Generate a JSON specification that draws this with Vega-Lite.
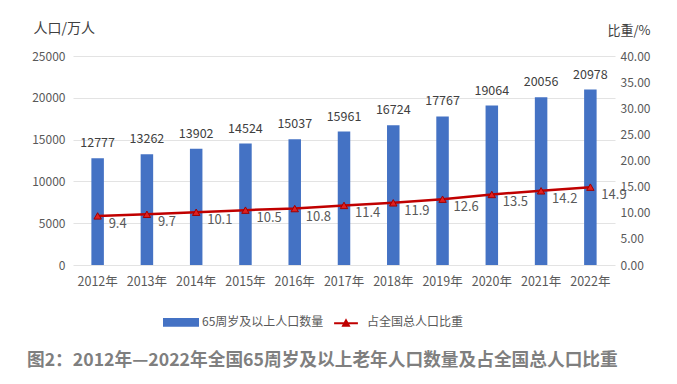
{
  "$schema": "https://vega.github.io/schema/vega-lite/v6.json",
  "width": 542,
  "height": 209,
  "autosize": {"type": "none"},
  "padding": {"left": 73, "top": 56, "right": 62, "bottom": 119},
  "background": "#ffffff",
  "config": {
    "font": "Noto Sans CJK SC",
    "view": {"stroke": null},
    "axis": {"labelColor": "#595959", "labelFontSize": 12, "titleColor": "#404040", "titleFontWeight": "normal", "domain": false, "ticks": false, "labelOverlap": false}
  },
  "title": {
    "text": "图2：2012年—2022年全国65周岁及以上老年人口数量及占全国总人口比重",
    "orient": "bottom",
    "anchor": "start",
    "frame": "group",
    "dx": -46,
    "offset": 22,
    "fontSize": 17.7,
    "fontWeight": "bold",
    "color": "#7F7F7F",
    "font": "Noto Sans CJK SC"
  },
  "data": {
    "values": [
      {"year": "2012年", "pop": 12777, "ratio": 9.4},
      {"year": "2013年", "pop": 13262, "ratio": 9.7},
      {"year": "2014年", "pop": 13902, "ratio": 10.1},
      {"year": "2015年", "pop": 14524, "ratio": 10.5},
      {"year": "2016年", "pop": 15037, "ratio": 10.8},
      {"year": "2017年", "pop": 15961, "ratio": 11.4},
      {"year": "2018年", "pop": 16724, "ratio": 11.9},
      {"year": "2019年", "pop": 17767, "ratio": 12.6},
      {"year": "2020年", "pop": 19064, "ratio": 13.5},
      {"year": "2021年", "pop": 20056, "ratio": 14.2},
      {"year": "2022年", "pop": 20978, "ratio": 14.9}
    ]
  },
  "encoding": {
    "x": {"field": "year", "type": "nominal", "sort": null, "title": null,
      "axis": {"labelAngle": 0, "labelPadding": 10, "labelFontSize": 12.5}}
  },
  "layer": [
    {
      "encoding": {
        "y": {"field": "pop", "type": "quantitative", "scale": {"domain": [0, 25000]},
          "axis": {"values": [0, 5000, 10000, 15000, 20000, 25000], "format": "d", "grid": true, "gridColor": "#E3E3E3", "labelPadding": 8,
            "title": "人口/万人", "titleAngle": 0, "titleAlign": "left", "titleBaseline": "middle", "titleX": -40, "titleY": -28, "titleFontSize": 14}}
      },
      "layer": [
        {
          "mark": {"type": "bar", "size": 12.5},
          "encoding": {
            "color": {"datum": "65周岁及以上人口数量", "type": "nominal",
              "scale": {"domain": ["65周岁及以上人口数量", "占全国总人口比重"], "range": ["#4472C4", "#C00000"]},
              "legend": {
                "orient": "none", "legendX": 90, "legendY": 248, "direction": "horizontal", "title": null,
                "labelFontSize": 12, "labelColor": "#595959", "symbolSize": 1156, "labelOffset": 3, "columnPadding": 4,
                "encode": {
                  "symbols": {"update": {
                    "shape": {"signal": "datum.value === '65周岁及以上人口数量' ? 'M-1,-0.2H1V0.2H-1Z' : 'M-0.7,0.05H0.7M-0.17,0.2L0,-0.12L0.17,0.2Z'"},
                    "fill": {"signal": "datum.value === '65周岁及以上人口数量' ? '#4472C4' : '#E02020'"},
                    "stroke": {"signal": "datum.value === '65周岁及以上人口数量' ? '#4472C4' : '#B00000'"},
                    "strokeWidth": {"value": 2},
                    "opacity": {"value": 1}
                  }}
                }
              }}
          }
        },
        {
          "mark": {"type": "text", "dy": -15, "fontSize": 12.5, "color": "#404040"},
          "encoding": {
            "text": {"field": "pop", "type": "quantitative", "format": "d"}
          }
        }
      ]
    },
    {
      "encoding": {
        "y": {"field": "ratio", "type": "quantitative", "scale": {"domain": [0, 40]},
          "axis": {"orient": "right", "values": [0, 5, 10, 15, 20, 25, 30, 35, 40], "format": ".2f", "grid": false, "labelPadding": 5,
            "title": "比重/%", "titleAngle": 0, "titleAlign": "left", "titleBaseline": "middle", "titleX": -8, "titleY": -26, "titleFontSize": 13}}
      },
      "layer": [
        {
          "mark": {"type": "line", "strokeWidth": 2.5},
          "encoding": {
            "color": {"datum": "占全国总人口比重", "type": "nominal"}
          }
        },
        {
          "mark": {"type": "point", "shape": "triangle-up", "size": 55, "filled": true, "fill": "#E02020", "stroke": "#A00000", "strokeWidth": 1, "opacity": 1}
        },
        {
          "mark": {"type": "text", "align": "left", "dx": 11, "dy": 8, "fontSize": 13, "color": "#595959"},
          "encoding": {
            "text": {"field": "ratio", "type": "quantitative", "format": ".1f"}
          }
        }
      ]
    }
  ],
  "resolve": {"scale": {"y": "independent"}}
}
